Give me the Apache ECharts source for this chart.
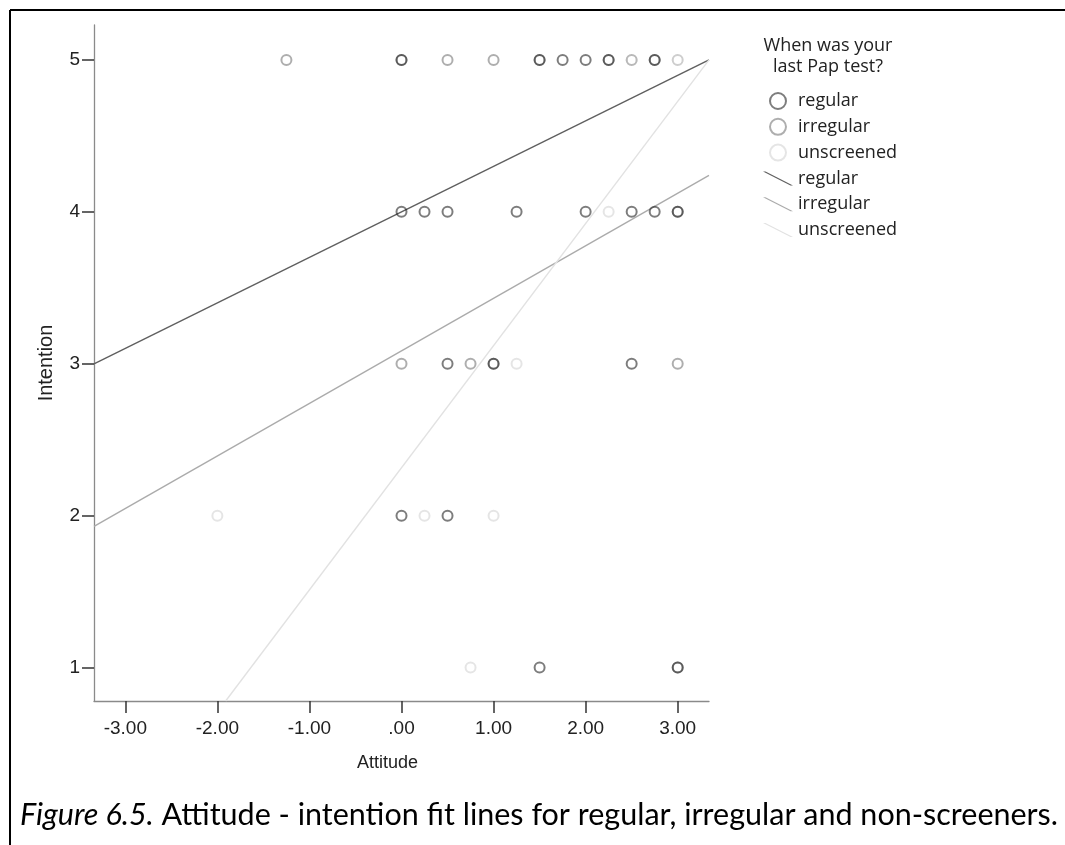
<!DOCTYPE html>
<html>
<head>
<meta charset="utf-8">
<script src="https://cdn.jsdelivr.net/npm/echarts@6/dist/echarts.min.js"></script>
<style>
html,body{margin:0;padding:0;background:#fff;}
#chart{width:1065px;height:845px;}
</style>
</head>
<body>
<div id="chart"></div>
<script>
// ---- data ----
var xTicks = [-3, -2, -1, 0, 1, 2, 3];
var yTicks = [1, 2, 3, 4, 5];
var groupNames = ['regular', 'irregular', 'unscreened'];

// [Attitude, Intention]
var regularPoints = [
  [0, 5], [1.5, 5], [1.75, 5], [2, 5], [2.25, 5], [2.75, 5],
  [0, 4], [0.25, 4], [0.5, 4], [1.25, 4], [2, 4], [2.5, 4], [2.75, 4], [3, 4],
  [0.5, 3], [1, 3], [2.5, 3],
  [0, 2], [0.5, 2],
  [1.5, 1], [3, 1]
];
var irregularPoints = [
  [-1.25, 5], [0, 5], [0.5, 5], [1, 5], [1.5, 5], [2.25, 5], [2.75, 5],
  [3, 4],
  [0, 3], [0.75, 3], [1, 3], [3, 3],
  [3, 1]
];
var unscreenedPoints = [
  [2.5, 5], [2.5, 5], [2.5, 5], [3, 5], [3, 5],
  [2.25, 4],
  [1.25, 3],
  [-2, 2], [0.25, 2], [1, 2],
  [0.75, 1]
];

// fit lines (end points)
var regularFit = [[-3.34, 3.0], [3.34, 5.0]];
var irregularFit = [[-3.34, 1.93], [3.34, 4.24]];
var unscreenedFit = [[-1.91, 0.78], [3.34, 5.0]];

var titleText = 'When was your\nlast Pap test?';
var captionItalic = 'Figure 6.5.';
var captionRest = ' Attitude - intention fit lines for regular, irregular and non-screeners.';

// ---- styling ----
var pointColors = ['rgba(30,30,30,0.72)', 'rgba(30,30,30,0.45)', 'rgba(30,30,30,0.15)'];
var lineColors = ['#5f5f5f', '#ababab', '#e2e2e2'];
var axisFont = "'Liberation Sans', Arial, sans-serif";
var legendFont = "'Open Sans', 'Noto Sans', sans-serif";
var captionFont = "Lato, 'Open Sans', sans-serif";

var pointSets = [regularPoints, irregularPoints, unscreenedPoints];
var fitSets = [regularFit, irregularFit, unscreenedFit];

var series = [];
fitSets.forEach(function (d, i) {
  series.push({
    name: groupNames[i] + ' fit',
    type: 'line',
    data: d,
    symbol: 'none',
    color: lineColors[i],
    lineStyle: { color: lineColors[i], width: 1.4 },
    z: 1,
    silent: true
  });
});
pointSets.forEach(function (d, i) {
  series.push({
    name: groupNames[i],
    type: 'scatter',
    data: d,
    symbol: 'circle',
    symbolSize: 10,
    itemStyle: { color: 'transparent', borderColor: pointColors[i], borderWidth: 2 },
    z: 3
  });
});

var linePath = 'path://M0,0 L2.5,0 L30,14 L27.5,14 Z';
var legendData = groupNames.map(function (n) { return { name: n, icon: 'circle' }; })
  .concat(groupNames.map(function (n) { return { name: n + ' fit', icon: linePath }; }));

var chart = echarts.init(document.getElementById('chart'), null, { renderer: 'canvas' });
chart.setOption({
  animation: false,
  backgroundColor: '#ffffff',
  grid: { left: 94, right: 356, top: 25, bottom: 144, containLabel: false },
  xAxis: {
    type: 'value',
    min: -3.34,
    max: 3.34,
    splitLine: { show: false },
    axisLine: { onZero: false, lineStyle: { color: '#8a8a8a', width: 1.3 } },
    axisTick: { customValues: xTicks, length: 12, lineStyle: { color: '#333', width: 1.5 } },
    axisLabel: {
      customValues: xTicks, margin: 18, fontSize: 19, color: '#222', fontFamily: axisFont,
      formatter: function (v) { return v === 0 ? '.00' : v.toFixed(2); }
    },
    name: 'Attitude',
    nameLocation: 'middle',
    nameGap: 53,
    nameTextStyle: { fontSize: 18, color: '#222', fontFamily: axisFont, padding: [0, 28, 0, 0] }
  },
  yAxis: {
    type: 'value',
    min: 0.78,
    max: 5.23,
    splitLine: { show: false },
    axisLine: { onZero: false, lineStyle: { color: '#8a8a8a', width: 1.3 } },
    axisTick: { customValues: yTicks, length: 12, lineStyle: { color: '#333', width: 1.5 } },
    axisLabel: { customValues: yTicks, margin: 14, fontSize: 19, color: '#222', fontFamily: axisFont },
    name: 'Intention',
    nameLocation: 'middle',
    nameGap: 38,
    nameTextStyle: { fontSize: 20, color: '#222', fontFamily: axisFont }
  },
  legend: {
    orient: 'vertical',
    left: 758,
    top: 87,
    padding: 5,
    itemWidth: 30,
    itemHeight: 16,
    itemGap: 7.8,
    selectedMode: false,
    data: legendData,
    formatter: function (n) { return n.replace(' fit', ''); },
    textStyle: { fontSize: 18, color: '#222', fontFamily: legendFont }
  },
  graphic: [
    { type: 'line', shape: { x1: 10, y1: 10, x2: 1065, y2: 10 }, style: { stroke: '#000', lineWidth: 2 } },
    { type: 'line', shape: { x1: 10, y1: 10, x2: 10, y2: 845 }, style: { stroke: '#000', lineWidth: 2 } },
    {
      type: 'text', x: 828, y: 35.5,
      style: { text: titleText, align: 'center', verticalAlign: 'top', fontSize: 18, lineHeight: 21,
               fontFamily: legendFont, fill: '#222' }
    },
    {
      type: 'text', x: 20, y: 815,
      style: {
        text: '{i|' + captionItalic + '}{n|' + captionRest + '}',
        verticalAlign: 'middle',
        rich: {
          i: { fontSize: 30.5, fontStyle: 'italic', fontFamily: captionFont, fill: '#000' },
          n: { fontSize: 30.5, fontFamily: captionFont, fill: '#000' }
        }
      }
    }
  ],
  series: series
});
</script>
</body>
</html>
